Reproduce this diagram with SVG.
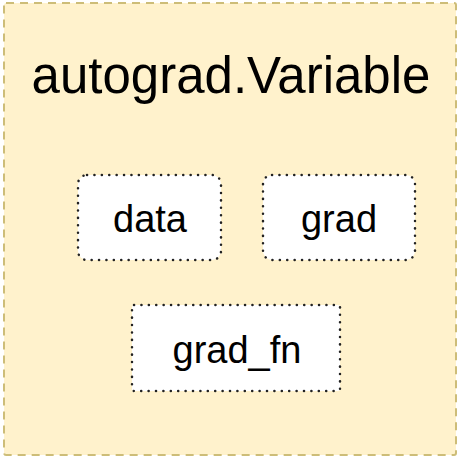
<svg xmlns="http://www.w3.org/2000/svg" width="463" height="458" viewBox="0 0 463 458">
<style>
.outer{fill:#fff2cc;stroke:#cdbd78;stroke-width:2;stroke-dasharray:8 6}
.box{fill:#ffffff;stroke:#222;stroke-width:2.5;stroke-dasharray:0.1 7.3;stroke-linecap:round}
.t{font-family:"Liberation Sans",Arial,sans-serif;fill:#000;text-anchor:middle}
</style>
<g id="variable">
<rect class="outer" x="4" y="3" width="452" height="452" rx="2"/>
<text class="t" x="231" y="93" font-size="51">autograd.Variable</text>
</g>
<g id="data">
<rect class="box" x="78" y="175" width="143" height="85" rx="9"/>
<text class="t" x="150" y="232" font-size="38">data</text>
</g>
<g id="grad">
<rect class="box" x="263" y="175" width="152" height="85" rx="9"/>
<text class="t" x="339" y="232" font-size="38">grad</text>
</g>
<g id="grad_fn">
<rect class="box" x="132" y="305" width="208" height="86" rx="2"/>
<text class="t" x="237" y="363" font-size="38">grad_fn</text>
</g>
<g id="connectors"/>
</svg>
